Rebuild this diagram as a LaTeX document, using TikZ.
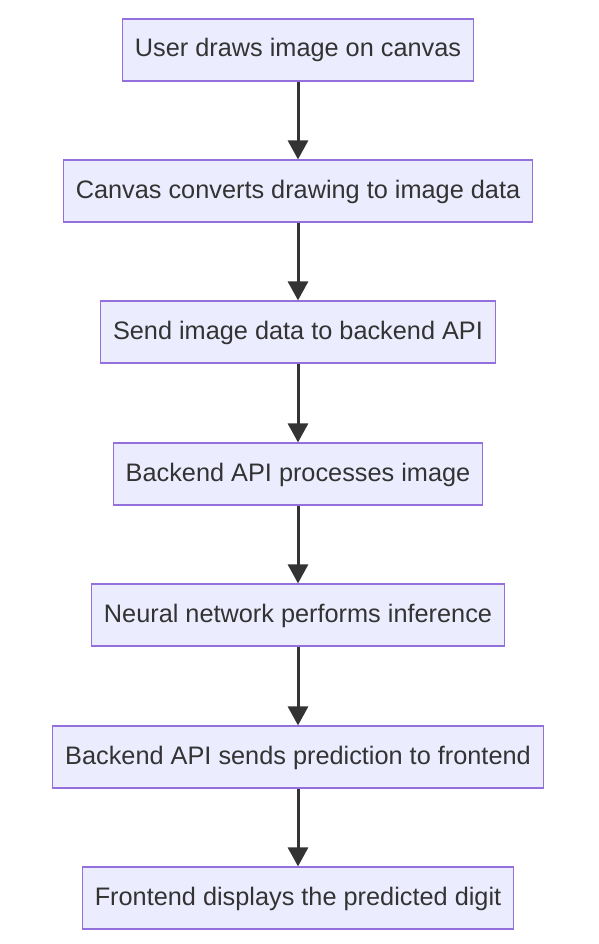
\documentclass[tikz,border=0pt]{standalone}
\usepackage{fontspec}
\setmainfont{Liberation Sans}
\usetikzlibrary{arrows.meta}
\definecolor{boxfill}{HTML}{ECECFF}
\definecolor{boxline}{HTML}{9370DB}
\definecolor{ink}{HTML}{333333}
\begin{document}
\begin{tikzpicture}[x=1pt, y=-1pt,
  stepbox/.style={draw=boxline, fill=boxfill, line width=1.2pt, text=ink,
    minimum height=62pt, inner xsep=12.5pt, text height=18pt, text depth=4pt,
    font=\fontsize{25.3}{28}\selectfont},
  flow/.style={draw=ink, line width=3pt, -{Triangle[width=20pt,length=19pt]}}]
  \useasboundingbox (0,0) rectangle (598,944);
  \node[stepbox] (draw)    at (298,50)  {User draws image on canvas};
  \node[stepbox] (convert) at (298,191) {Canvas converts drawing to image data};
  \node[stepbox] (send)    at (298,332) {Send image data to backend API};
  \node[stepbox] (process) at (298,474) {Backend API processes image};
  \node[stepbox] (infer)   at (298,615) {Neural network performs inference};
  \node[stepbox] (reply)   at (298,757) {Backend API sends prediction to frontend};
  \node[stepbox] (show)    at (298,898) {Frontend displays the predicted digit};
  \draw[flow] (draw)    -- (convert);
  \draw[flow] (convert) -- (send);
  \draw[flow] (send)    -- (process);
  \draw[flow] (process) -- (infer);
  \draw[flow] (infer)   -- (reply);
  \draw[flow] (reply)   -- (show);
\end{tikzpicture}
\end{document}
